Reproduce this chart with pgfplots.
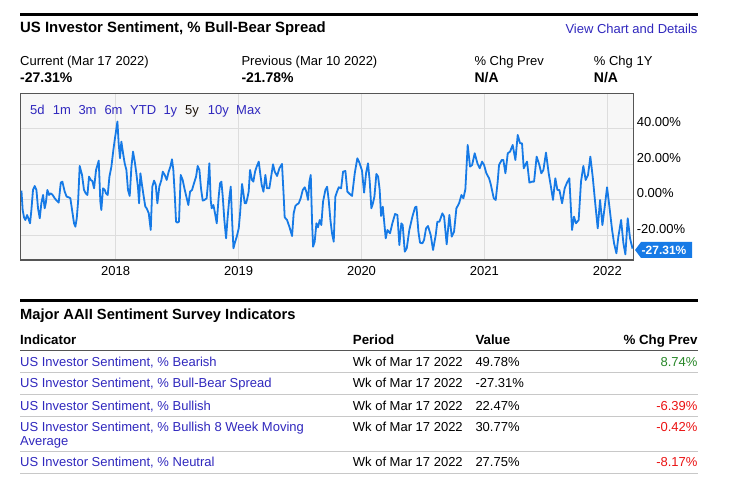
\documentclass[border=0pt]{standalone}
\usepackage{pgfplots}
\usepackage{pgfplotstable}
\pgfplotsset{compat=1.18}
\usepackage{fontspec}
\setmainfont{Liberation Sans}
\definecolor{linkblue}{RGB}{48,40,190}
\definecolor{lineblue}{RGB}{22,122,230}
\definecolor{plotbg}{RGB}{247,247,247}
\definecolor{gridgray}{RGB}{221,221,221}
\definecolor{framegray}{RGB}{85,85,85}
\definecolor{sepgray}{RGB}{200,200,200}
\definecolor{chggreen}{RGB}{40,135,40}
\definecolor{chgred}{RGB}{235,20,20}
\newcommand{\fs}[1]{\fontsize{#1bp}{#1bp}\selectfont}
\pgfplotstableread{
year value
2017.233 5.24
2017.243 -5.62
2017.254 -9.74
2017.265 -11.24
2017.279 -8.43
2017.292 -10.86
2017.303 -13.11
2017.314 -5.62
2017.327 5.62
2017.341 7.87
2017.355 5.62
2017.368 -4.68
2017.382 -10.30
2017.395 -1.87
2017.409 2.81
2017.422 -4.68
2017.431 -1.87
2017.444 5.62
2017.458 2.81
2017.471 3.75
2017.487 2.81
2017.504 0.94
2017.520 -0.37
2017.536 -1.50
2017.553 9.74
2017.566 10.30
2017.585 4.68
2017.601 1.87
2017.618 1.50
2017.631 0.94
2017.645 -5.62
2017.661 -13.11
2017.672 -14.98
2017.683 -10.30
2017.694 -0.94
2017.707 19.10
2017.726 14.05
2017.742 5.62
2017.756 3.75
2017.770 2.81
2017.783 13.11
2017.797 11.24
2017.810 10.67
2017.824 6.55
2017.840 16.85
2017.862 22.10
2017.875 -0.94
2017.883 -5.62
2017.897 6.55
2017.911 5.62
2017.921 3.75
2017.935 2.81
2017.949 13.11
2017.965 18.73
2017.981 28.09
2017.992 33.71
2018.006 40.26
2018.014 44.01
2018.024 31.84
2018.035 23.41
2018.046 32.77
2018.060 26.22
2018.073 20.60
2018.087 16.85
2018.100 5.62
2018.114 2.25
2018.128 18.73
2018.141 27.15
2018.155 21.54
2018.168 14.98
2018.182 6.55
2018.190 -1.87
2018.201 14.98
2018.214 8.43
2018.228 1.87
2018.241 -3.75
2018.252 -4.68
2018.269 -7.49
2018.285 -16.85
2018.298 7.49
2018.312 10.86
2018.326 8.43
2018.339 -1.87
2018.355 7.49
2018.372 11.24
2018.383 15.92
2018.399 14.05
2018.415 11.24
2018.431 15.92
2018.445 18.73
2018.458 22.85
2018.469 16.85
2018.480 3.75
2018.491 -12.17
2018.502 -12.73
2018.515 -12.17
2018.529 14.05
2018.545 11.24
2018.559 6.55
2018.578 0.94
2018.591 -2.81
2018.605 4.68
2018.621 5.62
2018.637 9.36
2018.654 13.11
2018.667 19.10
2018.681 16.85
2018.694 6.55
2018.708 -0.37
2018.722 0.00
2018.740 0.94
2018.754 12.17
2018.762 20.60
2018.773 0.00
2018.781 -4.68
2018.795 -2.81
2018.808 -7.49
2018.822 -13.11
2018.838 1.87
2018.849 9.36
2018.860 10.30
2018.871 1.87
2018.884 -11.24
2018.898 -21.54
2018.909 -11.24
2018.925 1.50
2018.936 7.49
2018.947 -11.24
2018.958 -27.15
2018.968 -24.35
2018.985 -20.60
2019.001 -15.92
2019.012 -7.49
2019.028 8.99
2019.039 3.75
2019.050 -1.87
2019.061 -1.87
2019.071 0.94
2019.082 4.68
2019.093 16.85
2019.109 11.24
2019.120 10.30
2019.134 15.92
2019.147 18.73
2019.164 21.54
2019.174 15.92
2019.188 8.43
2019.202 4.68
2019.218 14.05
2019.231 6.55
2019.250 6.55
2019.267 14.05
2019.280 20.04
2019.294 15.92
2019.313 13.48
2019.332 17.79
2019.353 20.23
2019.367 1.87
2019.375 -9.74
2019.394 -11.24
2019.413 -14.98
2019.435 -20.23
2019.448 -7.49
2019.462 -3.37
2019.476 -2.43
2019.489 -1.87
2019.505 0.94
2019.522 5.62
2019.538 7.12
2019.551 4.68
2019.565 0.00
2019.576 10.30
2019.587 14.05
2019.598 -13.11
2019.606 -26.22
2019.619 -23.41
2019.633 -13.11
2019.646 -15.36
2019.660 -11.24
2019.673 -14.05
2019.687 -0.94
2019.706 5.62
2019.720 7.49
2019.733 0.00
2019.747 -11.24
2019.760 -18.73
2019.774 -23.41
2019.787 1.87
2019.801 4.68
2019.815 7.12
2019.834 6.55
2019.850 15.92
2019.869 16.29
2019.885 4.68
2019.904 3.37
2019.923 2.25
2019.945 14.98
2019.966 23.41
2019.983 20.97
2020.004 16.48
2020.021 4.12
2020.037 14.98
2020.053 20.60
2020.067 10.30
2020.080 -4.68
2020.091 -2.43
2020.105 1.87
2020.121 14.61
2020.135 13.11
2020.148 5.62
2020.159 -8.99
2020.173 -3.75
2020.197 -21.54
2020.211 -16.85
2020.232 -18.73
2020.251 -13.11
2020.273 -7.87
2020.292 -8.43
2020.308 -25.28
2020.324 -13.11
2020.335 -14.05
2020.352 -29.03
2020.368 -27.15
2020.389 -16.85
2020.414 -9.36
2020.436 -4.12
2020.447 -3.75
2020.463 -17.79
2020.476 -23.97
2020.495 -24.35
2020.509 -22.47
2020.525 -15.92
2020.541 -14.61
2020.563 -19.66
2020.582 -28.09
2020.604 -19.66
2020.617 -12.17
2020.634 -12.17
2020.658 -7.49
2020.672 -9.36
2020.693 -24.91
2020.715 -8.43
2020.734 -20.60
2020.753 -17.79
2020.772 -4.68
2020.794 -1.87
2020.813 2.81
2020.829 0.94
2020.845 5.99
2020.864 30.90
2020.883 18.73
2020.900 19.66
2020.921 26.22
2020.943 20.60
2020.962 17.79
2020.981 21.54
2020.997 19.66
2021.016 14.98
2021.038 12.17
2021.051 8.99
2021.076 0.94
2021.092 0.00
2021.108 10.30
2021.119 19.66
2021.141 22.47
2021.154 22.47
2021.171 14.98
2021.190 26.22
2021.209 27.15
2021.230 30.90
2021.252 22.47
2021.271 36.52
2021.290 31.84
2021.306 31.84
2021.320 17.79
2021.333 19.66
2021.347 21.54
2021.366 9.74
2021.388 10.30
2021.404 10.30
2021.425 24.35
2021.447 19.66
2021.463 14.98
2021.480 16.85
2021.501 26.59
2021.523 14.98
2021.539 8.43
2021.558 0.00
2021.577 12.17
2021.594 5.62
2021.610 5.62
2021.632 -1.87
2021.653 6.55
2021.672 9.74
2021.691 12.17
2021.713 -16.85
2021.729 -9.36
2021.745 -13.11
2021.767 -11.24
2021.786 10.30
2021.805 19.10
2021.824 11.24
2021.843 14.05
2021.862 24.35
2021.881 13.11
2021.903 -2.81
2021.922 -15.92
2021.941 0.00
2021.960 -14.05
2021.979 -3.75
2021.998 7.12
2022.017 -3.75
2022.039 -16.85
2022.055 -24.35
2022.074 -29.96
2022.090 -20.60
2022.112 -11.24
2022.131 -24.35
2022.147 -30.53
2022.166 -10.30
2022.185 -21.54
2022.205 -27.31
}\spreaddata
\begin{document}
\begin{tikzpicture}
\begin{scope}[x=1bp,y=-1bp]
\fill[white] (0,0) rectangle (732,487);
% header
\fill[black] (20,12.7) rectangle (697.7,15.7);
\node[anchor=base west,inner sep=0,font=\bfseries\fs{14.9}] at (20,32.3) {US Investor Sentiment, \% Bull-Bear Spread};
\node[anchor=base east,inner sep=0,font=\fs{13},text=linkblue] at (697.7,33.5) {View Chart and Details};
\node[anchor=base west,inner sep=0,font=\fs{13}] at (20,65.7) {Current (Mar 17 2022)};
\node[anchor=base west,inner sep=0,font=\bfseries\fs{14}] at (20,82.7) {-27.31\%};
\node[anchor=base west,inner sep=0,font=\fs{13}] at (241.3,65.7) {Previous (Mar 10 2022)};
\node[anchor=base west,inner sep=0,font=\bfseries\fs{14}] at (241.3,82.7) {-21.78\%};
\node[anchor=base west,inner sep=0,font=\fs{13}] at (474.3,65.7) {\% Chg Prev};
\node[anchor=base west,inner sep=0,font=\bfseries\fs{14}] at (474.3,82.7) {N/A};
\node[anchor=base west,inner sep=0,font=\fs{13}] at (593.7,65.7) {\% Chg 1Y};
\node[anchor=base west,inner sep=0,font=\bfseries\fs{14}] at (593.7,82.7) {N/A};
% table section
\fill[black] (20,299.3) rectangle (697.7,302.3);
\node[anchor=base west,inner sep=0,font=\bfseries\fs{14.7}] at (20,319) {Major AAII Sentiment Survey Indicators};
\node[anchor=base west,inner sep=0,font=\bfseries\fs{13.3}] at (20,344) {Indicator};
\node[anchor=base west,inner sep=0,font=\bfseries\fs{13.3}] at (352.7,344) {Period};
\node[anchor=base west,inner sep=0,font=\bfseries\fs{13.3}] at (475.3,344) {Value};
\node[anchor=base east,inner sep=0,font=\bfseries\fs{13.3}] at (697.7,344) {\% Chg Prev};
\draw[framegray,line width=1.3bp] (20,350.7) -- (697.7,350.7);
\foreach \yy in {372,394.3,416.7,451.7,473.3}{\draw[sepgray,line width=1bp] (20,\yy) -- (697.7,\yy);}
\begin{scope}[every node/.style={inner sep=0,font=\fs{13}}]
\node[anchor=base west,text=linkblue] at (20,366) {US Investor Sentiment, \% Bearish};
\node[anchor=base west] at (352.7,366) {Wk of Mar 17 2022};
\node[anchor=base west] at (475.3,366) {49.78\%};
\node[anchor=base east,text=chggreen] at (697.7,366) {8.74\%};
\node[anchor=base west,text=linkblue] at (20,387.7) {US Investor Sentiment, \% Bull-Bear Spread};
\node[anchor=base west] at (352.7,387.7) {Wk of Mar 17 2022};
\node[anchor=base west] at (475.3,387.7) {-27.31\%};
\node[anchor=base west,text=linkblue] at (20,410) {US Investor Sentiment, \% Bullish};
\node[anchor=base west] at (352.7,410) {Wk of Mar 17 2022};
\node[anchor=base west] at (475.3,410) {22.47\%};
\node[anchor=base east,text=chgred] at (697.7,410) {-6.39\%};
\node[anchor=base west,text=linkblue] at (20,431.7) {US Investor Sentiment, \% Bullish 8 Week Moving};
\node[anchor=base west,text=linkblue] at (20,445) {Average};
\node[anchor=base west] at (352.7,431.7) {Wk of Mar 17 2022};
\node[anchor=base west] at (475.3,431.7) {30.77\%};
\node[anchor=base east,text=chgred] at (697.7,431.7) {-0.42\%};
\node[anchor=base west,text=linkblue] at (20,466.7) {US Investor Sentiment, \% Neutral};
\node[anchor=base west] at (352.7,466.7) {Wk of Mar 17 2022};
\node[anchor=base west] at (475.3,466.7) {27.75\%};
\node[anchor=base east,text=chgred] at (697.7,466.7) {-8.17\%};
\end{scope}
\end{scope}
\begin{axis}[
  at={(20.7bp,-260bp)}, anchor=south west,
  width=612.6bp, height=166.7bp, scale only axis,
  xmin=2017.227, xmax=2022.2115,
  ymin=-33.7, ymax=59.9,
  axis background/.style={fill=plotbg},
  axis line style={draw=framegray, line width=1.2bp},
  grid=major, major grid style={draw=gridgray, line width=1bp},
  xtick={2018,2019,2020,2021,2022},
  xticklabels={2018,2019,2020,2021,2022},
  ytick={-20,0,20,40},
  yticklabels={-20.00\%,0.00\%,20.00\%,40.00\%},
  yticklabel pos=right,
  major tick length=0pt,
  tick style={draw=none},
  xticklabel style={anchor=base, yshift=-15bp, font=\fs{13}},
  yticklabel style={anchor=base west, yshift=2.3bp, font=\fs{13}},
  /pgf/number format/assume math mode=true,
]
\addplot[lineblue, line width=1.8bp, line join=round, mark=none] table[x=year,y=value]{\spreaddata};
\end{axis}
\begin{scope}[x=1bp,y=-1bp]
\begin{scope}[every node/.style={anchor=base west,inner sep=0,font=\fs{13},text=linkblue}]
\node at (30,115) {5d};
\node at (52.7,115) {1m};
\node at (78.3,115) {3m};
\node at (104.3,115) {6m};
\node at (130,115) {YTD};
\node at (163.3,115) {1y};
\node[text=black!85!brown] at (185,115) {5y};
\node at (207.7,115) {10y};
\node at (236,115) {Max};
\end{scope}
\fill[lineblue] (635,250) -- (641,242) -- (692,242) -- (692,258) -- (641,258) -- cycle;
\node[anchor=base,inner sep=0,font=\bfseries\fs{12},text=white] at (664,254.3) {-27.31\%};
\end{scope}
\end{tikzpicture}
\end{document}
